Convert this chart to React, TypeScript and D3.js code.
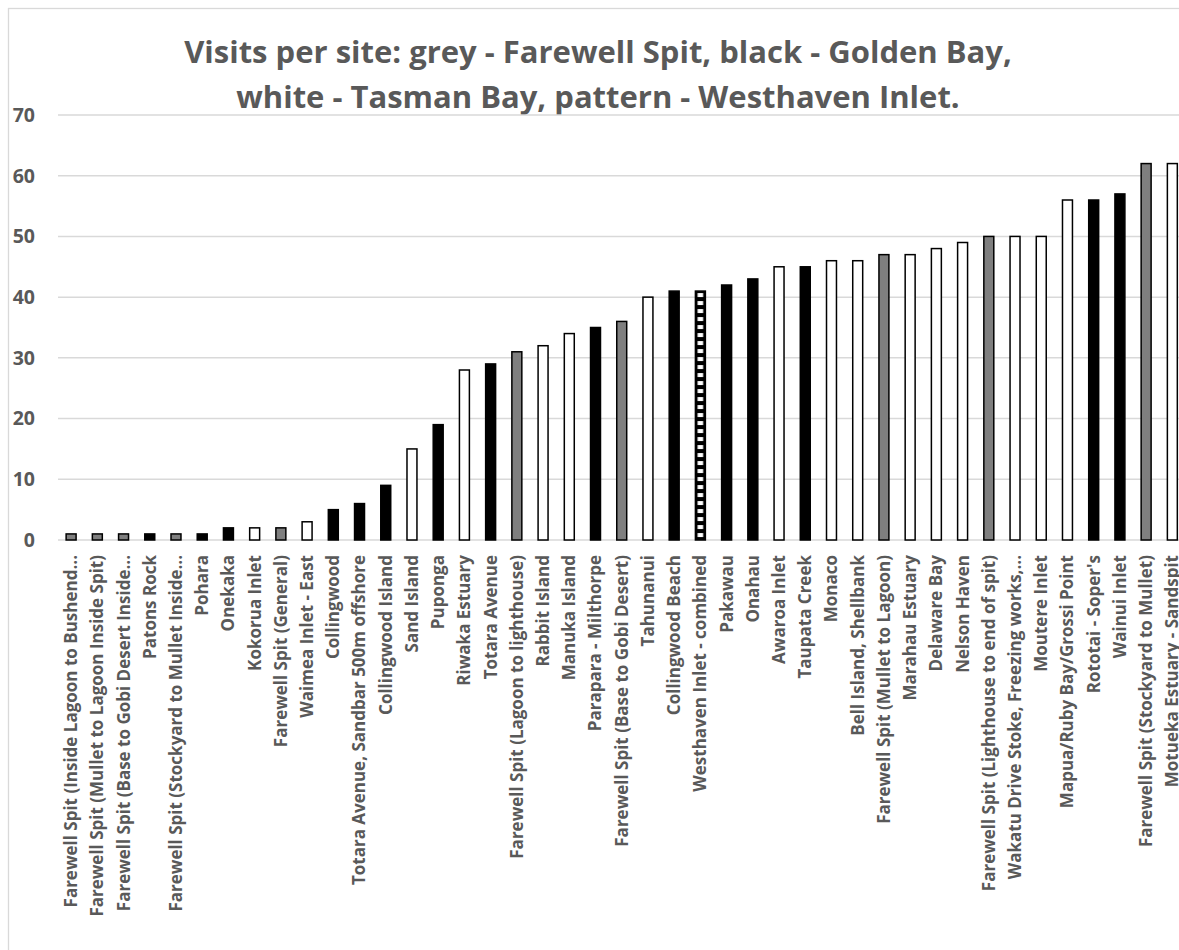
import React from "react";
import * as d3 from "d3";

const categories: string[] = [
  "Farewell Spit (Inside Lagoon to Bushend...",
  "Farewell Spit (Mullet to Lagoon Inside Spit)",
  "Farewell Spit (Base to Gobi Desert Inside...",
  "Patons Rock",
  "Farewell Spit (Stockyard to Mullet Inside...",
  "Pohara",
  "Onekaka",
  "Kokorua Inlet",
  "Farewell Spit (General)",
  "Waimea Inlet - East",
  "Collingwood",
  "Totara Avenue, Sandbar 500m offshore",
  "Collingwood Island",
  "Sand Island",
  "Puponga",
  "Riwaka Estuary",
  "Totara Avenue",
  "Farewell Spit (Lagoon to lighthouse)",
  "Rabbit Island",
  "Manuka Island",
  "Parapara - Milthorpe",
  "Farewell Spit (Base to Gobi Desert)",
  "Tahunanui",
  "Collingwood Beach",
  "Westhaven Inlet - combined",
  "Pakawau",
  "Onahau",
  "Awaroa Inlet",
  "Taupata Creek",
  "Monaco",
  "Bell Island, Shellbank",
  "Farewell Spit (Mullet to Lagoon)",
  "Marahau Estuary",
  "Delaware Bay",
  "Nelson Haven",
  "Farewell Spit (Lighthouse to end of spit)",
  "Wakatu Drive Stoke, Freezing works,...",
  "Moutere Inlet",
  "Mapua/Ruby Bay/Grossi Point",
  "Rototai - Soper's",
  "Wainui Inlet",
  "Farewell Spit (Stockyard to Mullet)",
  "Motueka Estuary - Sandspit",
];

const visits: number[] = [
  1, 1, 1, 1, 1, 1, 2, 2, 2, 3, 5, 6, 9, 15, 19, 28, 29, 31, 32, 34, 35, 36,
  40, 41, 41, 42, 43, 45, 45, 46, 46, 47, 47, 48, 49, 50, 50, 50, 56, 56, 57,
  62, 62,
];

// FS = Farewell Spit (grey), GB = Golden Bay (black), TB = Tasman Bay (white), WI = Westhaven Inlet (pattern)
const regions: string[] = [
  "FS", "FS", "FS", "GB", "FS", "GB", "GB", "TB", "FS", "TB", "GB", "GB", "GB",
  "TB", "GB", "TB", "GB", "FS", "TB", "TB", "GB", "FS", "TB", "GB", "WI", "GB",
  "GB", "TB", "GB", "TB", "TB", "FS", "TB", "TB", "TB", "FS", "TB", "TB", "TB",
  "GB", "GB", "FS", "TB",
];

const yTicks: number[] = [0, 10, 20, 30, 40, 50, 60, 70];

const titleLines: string[] = [
  "Visits per site: grey - Farewell Spit, black - Golden Bay,",
  "white - Tasman Bay, pattern - Westhaven Inlet.",
];

const fillFor: Record<string, string> = {
  FS: "#7f7f7f",
  GB: "#000000",
  TB: "#ffffff",
  WI: "url(#westhaven)",
};

export default function App() {
  const W = 1179;
  const H = 950;
  const left = 58;
  const step = 26.22;
  const right = left + step * categories.length;
  const y0 = 540;
  const yTop = 115;

  const x = d3
    .scaleBand<string>()
    .domain(categories)
    .range([left, right])
    .paddingInner(0.62)
    .paddingOuter(0.31);
  const y = d3.scaleLinear().domain([0, 70]).range([y0, yTop]);
  const bw = x.bandwidth();
  const textColor = "#595959";
  const font = "'Open Sans', 'DejaVu Sans', sans-serif";

  return (
    <div>
      <style>{`html,body{margin:0;padding:0;overflow:hidden;background:#fff}`}</style>
      <svg width={W} height={H} style={{ display: "block" }}>
        <defs>
          {categories.map((c, i) =>
            regions[i] === "WI" ? (
              <pattern
                key={c}
                id="westhaven"
                patternUnits="userSpaceOnUse"
                x={x(c)}
                y={y(visits[i])}
                width={bw}
                height={8}
              >
                <rect x={0} y={0} width={bw} height={8} fill="#000" />
                <rect x={2.2} y={2} width={bw - 4.4} height={4} fill="#fff" />
              </pattern>
            ) : null
          )}
        </defs>
        <rect x={0} y={0} width={W} height={H} fill="#fff" />
        <rect x={8.5} y={8.5} width={W + 20} height={H + 20} fill="none" stroke="#d9d9d9" strokeWidth={1.3} />

        {titleLines.map((t, i) => (
          <text
            key={i}
            x={598}
            y={63 + i * 45}
            textAnchor="middle"
            fontFamily={font}
            fontWeight={700}
            fontSize={31}
            fill={textColor}
          >
            {t}
          </text>
        ))}

        {yTicks.map((t) => (
          <g key={t}>
            <line x1={left} x2={W} y1={y(t)} y2={y(t)} stroke="#d9d9d9" strokeWidth={1.5} />
            <text
              x={35}
              y={y(t)}
              dy="0.35em"
              textAnchor="end"
              fontFamily={font}
              fontWeight={700}
              fontSize={19.5}
              fill={textColor}
            >
              {t}
            </text>
          </g>
        ))}

        {categories.map((c, i) => (
          <rect
            key={c}
            x={x(c)}
            y={y(visits[i])}
            width={bw}
            height={y0 - y(visits[i])}
            fill={fillFor[regions[i]]}
            stroke="#000"
            strokeWidth={1.5}
          />
        ))}

        {categories.map((c) => {
          const cx = (x(c) as number) + bw / 2;
          return (
            <text
              key={c}
              transform={`translate(${cx},555) rotate(-90)`}
              dy="0.35em"
              textAnchor="end"
              fontFamily={font}
              fontWeight={700}
              fontSize={17}
              fill={textColor}
            >
              {c}
            </text>
          );
        })}
      </svg>
    </div>
  );
}
